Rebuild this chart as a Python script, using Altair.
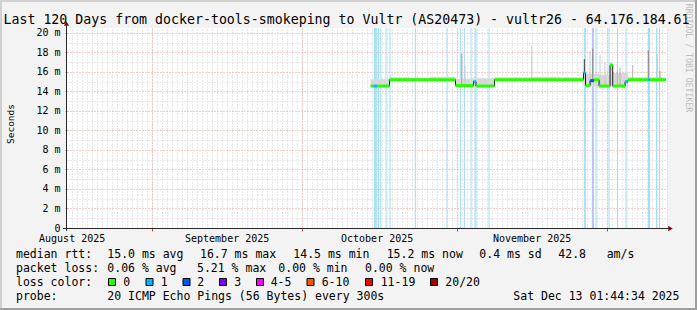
import altair as alt
import pandas as pd

MONO = "DejaVu Sans Mono"
PL, PT = 67, 28          # plot-area origin inside the 697x310 canvas
W, H = 600, 200

# ---------------- data ----------------
# median RTT (ms), piecewise per RRD step group, with the packet loss of that group
seg_start = ["2025-10-14T19:40", "2025-10-15T11:30", "2025-10-16T01:55", "2025-10-18T13:55",
             "2025-10-31T18:45", "2025-11-04T09:05", "2025-11-04T21:05", "2025-11-08T13:55",
             "2025-11-26T09:05", "2025-11-26T18:45", "2025-11-27T16:20", "2025-11-28T11:30",
             "2025-11-29T11:30", "2025-12-01T16:20", "2025-12-02T05:15", "2025-12-04T16:20",
             "2025-12-05T06:45", "2025-12-09T06:45", "2025-12-09T16:20"]
seg_end = ["2025-10-15T11:30", "2025-10-16T01:55", "2025-10-18T13:55", "2025-10-31T18:45",
           "2025-11-04T09:05", "2025-11-04T21:05", "2025-11-08T13:55", "2025-11-26T09:05",
           "2025-11-26T18:45", "2025-11-27T16:20", "2025-11-28T11:30", "2025-11-29T11:30",
           "2025-12-01T16:20", "2025-12-02T05:15", "2025-12-04T16:20", "2025-12-05T06:45",
           "2025-12-09T06:45", "2025-12-09T16:20", "2025-12-12T19:40"]
seg_median = [14.55, 14.55, 14.55, 15.2, 14.6, 15.0, 14.55, 15.2, 15.9, 14.6,
              15.1, 15.2, 14.55, 16.7, 14.55, 15.0, 15.2, 15.2, 15.2]
seg_loss = [0, 1, 0, 0, 0, 1, 0, 0, 1, 0, 2, 0, 0, 0, 0, 1, 0, 1, 0]

# smoke (spread of the 20 pings)
smoke_time = ["2025-10-14T19:40", "2025-10-18T13:55", "2025-10-22T16:20", "2025-10-26T16:20",
              "2025-10-31T18:45", "2025-11-04T09:05", "2025-11-04T21:05", "2025-11-08T13:55",
              "2025-11-15T16:20", "2025-11-21T16:20", "2025-11-26T09:05", "2025-11-29T11:30",
              "2025-12-01T16:20", "2025-12-02T05:15", "2025-12-05T06:45", "2025-12-12T19:40"]
smoke_lo = [14.45, 15.1, 15.1, 15.1, 14.5, 14.5, 14.5, 15.1,
            15.1, 15.1, 14.5, 14.5, 14.5, 14.5, 15.1, 15.1]
smoke_hi = [15.25, 15.45, 15.4, 15.5, 15.3, 15.5, 15.35, 15.45,
            15.5, 15.45, 15.8, 15.7, 16.9, 15.9, 15.45, 15.45]

# single high pings
spike_time = ["2025-11-02T00:30", "2025-11-02T16:20", "2025-11-16T00:30", "2025-11-26T13:00",
              "2025-11-27T16:20", "2025-11-28T05:15", "2025-11-29T16:20", "2025-11-30T16:20",
              "2025-12-03T03:20", "2025-12-03T16:20", "2025-12-06T05:15", "2025-12-09T08:10",
              "2025-12-11T03:20", "2025-12-11T16:20"]
spike_top = [17.9, 16.6, 18.7, 17.3, 18.1, 18.4, 17.7, 17.0, 16.2, 16.4, 16.7, 18.2, 17.8, 16.1]
spike_base = [14.6, 14.6, 15.2, 15.9, 14.6, 15.1, 14.55, 14.55, 14.55, 14.55, 15.2, 15.2, 15.2, 15.2]
spike_pings = [3, 1, 1, 8, 1, 4, 1, 1, 2, 2, 2, 4, 1, 3]

# steps with packet loss (number of lost pings)
loss_time = ["2025-10-15T13:00", "2025-10-15T17:45", "2025-10-15T22:30", "2025-10-16T09:00",
             "2025-10-16T19:40", "2025-10-17T21:00", "2025-10-18T16:20", "2025-10-23T17:45",
             "2025-10-30T02:00", "2025-11-01T17:45", "2025-11-02T13:00", "2025-11-03T21:05",
             "2025-11-04T16:20", "2025-11-04T21:05", "2025-11-07T11:30", "2025-11-26T13:00",
             "2025-11-26T17:45", "2025-11-28T03:20", "2025-11-28T08:10", "2025-11-28T21:05",
             "2025-12-01T11:30", "2025-12-03T04:20", "2025-12-04T21:05", "2025-12-09T09:05",
             "2025-12-09T13:55", "2025-12-10T23:30", "2025-12-11T13:55"]
loss_count = [1, 1, 1, 1, 1, 1, 1, 1, 1, 1, 1, 1, 1, 1, 1, 1, 1, 2, 2, 1, 1, 1, 1, 1, 1, 1, 1]

y_major = [0, 2, 4, 6, 8, 10, 12, 14, 16, 18, 20]
y_minor = [1, 3, 5, 7, 9, 11, 13, 15, 17, 19]
month_starts = [(2025, 9, 1), (2025, 10, 1), (2025, 11, 1), (2025, 12, 1)]
month_label_days = [(2025, 8, 16), (2025, 9, 16), (2025, 10, 16), (2025, 11, 16)]

title_text = "Last 120 Days from docker-tools-smokeping to Vultr (AS20473) - vultr26 - 64.176.184.61"
rtt_stats = ["15.0 ms avg", "16.7 ms max", "14.5 ms min", "15.2 ms now", "0.4 ms sd", "42.8", "am/s"]
loss_stats = ["0.06 % avg", "5.21 % max", "0.00 % min", "0.00 % now"]
loss_names = ["0", "1", "2", "3", "4-5", "6-10", "11-19", "20/20"]
loss_colors = ["#26ff00", "#00b8ff", "#0059ff", "#7e00ff", "#ff00ff", "#ff5500", "#ff0000", "#a10000"]
probe_text = "20 ICMP Echo Pings (56 Bytes) every 300s"
stamp_text = "Sat Dec 13 01:44:34 2025"

# ---------------- layout / style ----------------
MINOR = "#d2d2d2"
MAJOR = "#eb9c9c"
rtt_x = [107.3, 200, 293.3, 386.7, 479.3, 558.3, 606.7]
loss_x = [107.3, 197, 278.3, 365]
box_x = [108.5, 146, 183, 219.5, 256.5, 307, 365.5, 430.5]
name_x = [123.3, 160.7, 197.3, 234.3, 270.7, 321.7, 380.7, 445.3]
rows = [258.3, 272.2, 286.1, 300.0]


def dt(y, m, d, h=0, mi=0):
    return alt.DateTime(year=y, month=m, date=d, hours=h, minutes=mi)


xscale = alt.Scale(domain=[dt(2025, 8, 15, 1, 44), dt(2025, 12, 13, 1, 44)])
yscale = alt.Scale(domain=[0, 20.5], nice=False, zero=False)

one = pd.DataFrame({"k": [0]})

loss_df = pd.DataFrame({"time": loss_time, "loss": loss_count})
loss_layer = alt.Chart(loss_df).mark_rule(strokeWidth=1).encode(
    x=alt.X("time:T", scale=xscale,
            axis=alt.Axis(orient="bottom", grid=True, gridColor=MINOR, gridDash=[1, 2], gridWidth=1,
                          tickCount={"interval": "day", "step": 1}, labels=False, ticks=False,
                          domain=False, title=None)),
    y=alt.value(0), y2=alt.value(H),
    color=alt.Color("loss:N", scale=alt.Scale(domain=[1, 2], range=["#a0dcf6", "#b0bdfb"]), legend=None),
)

smoke_df = pd.DataFrame({"time": smoke_time, "lo": smoke_lo, "hi": smoke_hi})
smoke_layer = alt.Chart(smoke_df).mark_area(interpolate="step-after", color="#d8d8d8").encode(
    x=alt.X("time:T", scale=xscale,
            axis=alt.Axis(orient="bottom", values=[dt(*m) for m in month_starts], grid=True,
                          gridColor=MAJOR, gridDash=[1, 2], labels=False, ticks=True, tickSize=3,
                          tickColor="#d04040", domain=False, title=None)),
    y=alt.Y("hi:Q", scale=yscale,
            axis=alt.Axis(orient="left", values=y_minor, grid=True, gridColor=MINOR, gridDash=[1, 2],
                          labels=False, ticks=False, domain=False, title=None)),
    y2="lo:Q",
)

spike_df = pd.DataFrame({"time": spike_time, "top": spike_top, "base": spike_base, "pings": spike_pings})
spike_layer = alt.Chart(spike_df).mark_rule(strokeWidth=1).encode(
    x=alt.X("time:T", scale=xscale,
            axis=alt.Axis(orient="bottom", values=[dt(*m) for m in month_label_days], format="%B %Y",
                          grid=False, ticks=False, domain=False, labelFont=MONO, labelFontSize=10,
                          labelColor="#000000", labelBaseline="alphabetic", labelPadding=13.5,
                          labelFlush=False, labelOverlap=False, title=None)),
    y=alt.Y("top:Q", scale=yscale,
            axis=alt.Axis(orient="left", values=y_major, grid=True, gridColor=MAJOR, gridDash=[1, 2],
                          labelExpr="datum.value == 0 ? '0' : datum.value + ' m'", labelFont=MONO,
                          labelFontSize=10, labelColor="#000000", ticks=True, tickSize=2,
                          tickColor="#909090", labelPadding=5, domain=False, title=None)),
    y2="base:Q",
    color=alt.Color("pings:Q", scale=alt.Scale(domain=[1, 8], range=["#c8c8c8", "#3c3c3c"]), legend=None),
)

seg_df = pd.DataFrame({"start": seg_start, "end": seg_end, "median": seg_median, "loss": seg_loss})
line_df = pd.DataFrame({"time": seg_start + [seg_end[-1]], "median": seg_median + [seg_median[-1]]})
median_line = alt.Chart(line_df).mark_line(interpolate="step-after", color="#1a1a1a", strokeWidth=1).encode(
    x=alt.X("time:T", scale=xscale, axis=None),
    y=alt.Y("median:Q", scale=yscale, axis=None),
)
band_layer = alt.Chart(seg_df).mark_rule(strokeWidth=3, strokeCap="butt").encode(
    x=alt.X("start:T", scale=xscale, axis=None), x2="end:T",
    y=alt.Y("median:Q", scale=yscale, axis=None),
    color=alt.Color("loss:N", scale=alt.Scale(domain=[0, 1, 2], range=loss_colors[:3]), legend=None),
)


def txt(s, x, y, size=11.5, align="left", color="#000000", angle=0, baseline="alphabetic"):
    return alt.Chart(one).mark_text(text=s, align=align, baseline=baseline, font=MONO, fontSize=size,
                                    color=color, angle=angle).encode(
        x=alt.value(x - PL), y=alt.value(y - PT))


def hline(x1, x2, y, color, w=1):
    return alt.Chart(one).mark_rule(color=color, strokeWidth=w).encode(
        x=alt.value(x1 - PL), x2=alt.value(x2 - PL), y=alt.value(y - PT))


def vline(x, y1, y2, color, w=1):
    return alt.Chart(one).mark_rule(color=color, strokeWidth=w).encode(
        x=alt.value(x - PL), y=alt.value(y1 - PT), y2=alt.value(y2 - PT))


deco = []
# frame shading
deco += [hline(0, 697, 1, "#d0d0d0", 2), vline(1, 0, 310, "#d0d0d0", 2),
         hline(0, 697, 309, "#9e9e9e", 2), vline(696, 0, 310, "#9e9e9e", 2)]
# axes with arrows
deco += [vline(66.5, 23, 231, "#2a2a2a"), hline(63, 669, 228.5, "#2a2a2a")]
deco.append(alt.Chart(one).mark_point(shape="triangle-up", filled=True, size=28, color="#7f1010", opacity=1).encode(
    x=alt.value(66.5 - PL), y=alt.value(23.5 - PT)))
deco.append(alt.Chart(one).mark_point(shape="triangle-right", filled=True, size=28, color="#7f1010", opacity=1).encode(
    x=alt.value(670.5 - PL), y=alt.value(228.5 - PT)))
# titles
deco.append(txt(title_text, 3.5, 23.5, size=13.25))
deco.append(txt("Seconds", 13.5, 124, size=9.5, align="center", angle=270))
deco.append(txt("RRDTOOL / TOBI OETIKER", 686, 58, size=8.2, align="center", color="#bdbdbd", angle=90))
# legend
deco.append(txt("median rtt:", 16, rows[0]))
for s, x in zip(rtt_stats, rtt_x):
    deco.append(txt(s, x, rows[0]))
deco.append(txt("packet loss:", 16, rows[1]))
for s, x in zip(loss_stats, loss_x):
    deco.append(txt(s, x, rows[1]))
deco.append(txt("loss color:", 16, rows[2]))
for name, col, bx, nx in zip(loss_names, loss_colors, box_x, name_x):
    deco.append(alt.Chart(one).mark_rect(fill=col, stroke="#000000", strokeWidth=1).encode(
        x=alt.value(bx - PL), x2=alt.value(bx + 7 - PL),
        y=alt.value(278.5 - PT), y2=alt.value(285.5 - PT)))
    deco.append(txt(name, nx, rows[2]))
deco.append(txt("probe:", 16, rows[3]))
deco.append(txt(probe_text, 107.3, rows[3]))
deco.append(txt(stamp_text, 513.3, rows[3]))

chart = alt.layer(loss_layer, smoke_layer, spike_layer, median_line, band_layer, *deco).resolve_scale(
    color="independent").resolve_axis(x="independent", y="independent").properties(
    width=W, height=H, background="#f3f3f3",
    padding={"left": PL, "top": PT, "right": 697 - PL - W, "bottom": 310 - PT - H},
    autosize=alt.AutoSizeParams(type="none"),
).configure_view(fill="white", stroke=None)

chart.save("out.html", embed_options={"renderer": "svg", "actions": False})
